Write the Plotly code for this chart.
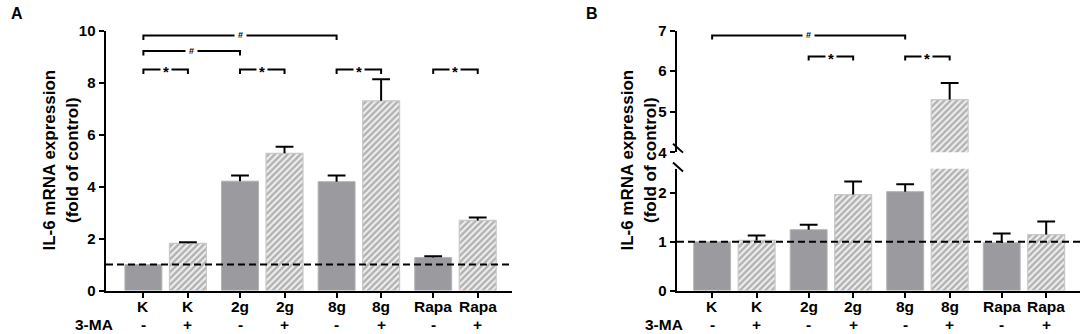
import plotly.graph_objects as go

# ---------------- data ----------------
groups = ["K", "2g", "8g", "Rapa"]
ma_signs = ["-", "+"]

a_minus = [1.00, 4.21, 4.19, 1.27]
a_minus_err = [0.00, 0.22, 0.24, 0.05]
a_plus = [1.82, 5.28, 7.30, 2.70]
a_plus_err = [0.04, 0.25, 0.83, 0.11]

b_minus = [1.00, 1.25, 2.03, 0.98]
b_minus_err = [0.00, 0.10, 0.15, 0.19]
b_plus = [1.03, 1.97, 5.30, 1.15]
b_plus_err = [0.10, 0.27, 0.41, 0.27]

# brackets: (start slot, end slot, level, label)
a_brackets = [(0, 4, 9.81, "#"), (0, 2, 9.21, "#"),
              (0, 1, 8.5, "*"), (2, 3, 8.5, "*"), (4, 5, 8.5, "*"), (6, 7, 8.5, "*")]
b_brackets = [(0, 4, 6.88, "#"), (2, 3, 6.36, "*"), (4, 5, 6.36, "*")]

a_yticks = [0, 2, 4, 6, 8, 10]
b_low_ticks = [0, 1, 2]
b_up_ticks = [4, 5, 6, 7]
b_low_range = [0, 2.5]
b_up_range = [4, 7]
control_level = 1.0

# ---------------- styling ----------------
W, H = 1084, 334
FONT = "Liberation Sans, Arial, sans-serif"
SOLID = "#9b9b9f"
HATCH_FG = "#727272"
GSTEP = 2.17
BW = 0.83
CAP = 0.2   # half cap width in x units
VS, VOFF = 0.954, 8.0   # observed vertical mapping of the capture


def pos(slot):
    return (slot // 2) * GSTEP + (slot % 2)


def px(x):
    return x / W


def py(y):
    yp = y / VS - VOFF
    return (H - yp) / H


def b(t):
    return f"<b>{t}</b>"


minus_x = [pos(2 * i) for i in range(len(groups))]
plus_x = [pos(2 * i + 1) for i in range(len(groups))]
all_x = [pos(s) for s in range(2 * len(groups))]
all_text = [g for g in groups for _ in ma_signs]
all_signs = [s for _ in groups for s in ma_signs]

fig = go.Figure()


def add_bars(xa, ya, mvals, pvals):
    fig.add_trace(go.Bar(
        x=minus_x, y=mvals, width=BW, xaxis=xa, yaxis=ya,
        marker=dict(color=SOLID, line=dict(color="#b4b4b8", width=1)),
        showlegend=False, hoverinfo="skip"))
    fig.add_trace(go.Bar(
        x=plus_x, y=pvals, width=BW, xaxis=xa, yaxis=ya,
        marker=dict(color="white", line=dict(color="#c8c8c8", width=1.2),
                    pattern=dict(shape="/", fgcolor=HATCH_FG, bgcolor="#f2f2f2",
                                 size=4.5, solidity=0.55)),
        showlegend=False, hoverinfo="skip"))


def add_err(xa, ya, xs, vals, errs, keep):
    ex, ey = [], []
    for x, v, e in zip(xs, vals, errs):
        if e <= 0 or not keep(v):
            continue
        ex += [x, x, None, x - CAP, x + CAP, None]
        ey += [v, v + e, None, v + e, v + e, None]
    if ex:
        fig.add_trace(go.Scatter(x=ex, y=ey, xaxis=xa, yaxis=ya, mode="lines",
                                 line=dict(color="black", width=2), showlegend=False,
                                 hoverinfo="skip"))


# Panel A
add_bars("x", "y", a_minus, a_plus)
add_err("x", "y", minus_x, a_minus, a_minus_err, lambda v: True)
add_err("x", "y", plus_x, a_plus, a_plus_err, lambda v: True)

# Panel B lower and upper (broken axis)
lowk = lambda v: v < b_up_range[0]
upk = lambda v: v >= b_up_range[0]
add_bars("x2", "y2", b_minus, b_plus)
add_bars("x2", "y3", b_minus, b_plus)
add_err("x2", "y2", minus_x, b_minus, b_minus_err, lowk)
add_err("x2", "y2", plus_x, b_plus, b_plus_err, lowk)
add_err("x2", "y3", minus_x, b_minus, b_minus_err, upk)
add_err("x2", "y3", plus_x, b_plus, b_plus_err, upk)

tickfont = dict(family=FONT, size=15, color="black")

common_x = dict(tickvals=all_x, showticklabels=False, showline=True,
                linecolor="black", linewidth=2.5, ticks="outside", ticklen=5, tickwidth=2,
                tickcolor="black", showgrid=False, zeroline=False, fixedrange=True)
common_y = dict(tickfont=tickfont, showline=True, linecolor="black", linewidth=2.5,
                ticks="outside", ticklen=5, tickwidth=2, tickcolor="black",
                showgrid=False, zeroline=False, fixedrange=True)

y0p = py(290.7)
fig.update_layout(
    width=W, height=H, margin=dict(l=0, r=0, t=0, b=0), autosize=False,
    paper_bgcolor="white", plot_bgcolor="white", barmode="overlay",
    showlegend=False, font=dict(family=FONT, color="black"),
    xaxis=dict(domain=[px(106), px(512)], range=[-0.84, 8.28], anchor="y", **common_x),
    yaxis=dict(domain=[y0p, py(29.3)], range=[0, 10], tickvals=a_yticks,
               ticktext=[b(t) for t in a_yticks], anchor="x", **common_y),
    xaxis2=dict(domain=[px(677), px(1080)], range=[-0.79, 8.27], anchor="y2", **common_x),
    yaxis2=dict(domain=[y0p, py(168.2)], range=b_low_range, tickvals=b_low_ticks,
                ticktext=[b(t) for t in b_low_ticks], anchor="x2", **common_y),
    yaxis3=dict(domain=[py(151.7), py(29.3)], range=b_up_range, tickvals=b_up_ticks,
                ticktext=[b(t) for t in b_up_ticks], anchor="x2", **common_y),
)

shapes = []
annots = []

# dashed control lines
for xr, yr in (("x domain", "y"), ("x2 domain", "y2")):
    shapes.append(dict(type="line", xref=xr, yref=yr, x0=0, x1=1, y0=control_level, y1=control_level,
                       line=dict(color="black", width=2, dash="7px,4px")))


def add_brackets(brs, xr, yr, drop):
    for s0, s1, lvl, lab in brs:
        x0, x1 = pos(s0), pos(s1)
        shapes.append(dict(type="path", xref=xr, yref=yr,
                           path=f"M {x0},{lvl - drop} L {x0},{lvl} L {x1},{lvl} L {x1},{lvl - drop}",
                           line=dict(color="black", width=2)))
        annots.append(dict(x=(x0 + x1) / 2, y=lvl, xref=xr, yref=yr, text=b(lab), showarrow=False,
                           xanchor="center", yanchor="middle",
                           bgcolor="white", borderpad=2 if lab == "*" else 3,
                           yshift=-2 if lab == "*" else 0,
                           font=dict(family=FONT, size=15 if lab == "*" else 9, color="black")))


add_brackets(a_brackets, "x", "y", 0.17)
add_brackets(b_brackets, "x2", "y3", 0.1)

# x labels: group names and 3-MA signs
lab_font = dict(family=FONT, size=15.5, color="black")
for xr, lx in (("x", 115), ("x2", 685)):
    for xv, gt, sg in zip(all_x, all_text, all_signs):
        annots.append(dict(x=xv, y=py(306.5), xref=xr, yref="paper", text=b(gt), showarrow=False,
                           xanchor="center", yanchor="middle", font=lab_font))
        annots.append(dict(x=xv, y=py(325), xref=xr, yref="paper", text=b(sg), showarrow=False,
                           xanchor="center", yanchor="middle", font=lab_font))
    annots.append(dict(x=px(lx), y=py(325), xref="paper", yref="paper", text=b("3-MA"), showarrow=False,
                       xanchor="right", yanchor="middle", font=lab_font))

# axis titles
for cx in (61, 639):
    annots.append(dict(x=px(cx), y=py(160), xref="paper", yref="paper",
                       text=b("IL-6 mRNA expression<br>(fold of control)"), textangle=-90,
                       xanchor="center", yanchor="middle",
                       showarrow=False, font=dict(family=FONT, size=17, color="black")))

# panel letters
annots.append(dict(x=px(9), y=py(12), xref="paper", yref="paper", text=b("A"), showarrow=False,
                   xanchor="left", yanchor="middle", font=dict(family=FONT, size=16, color="black")))
annots.append(dict(x=px(584), y=py(12), xref="paper", yref="paper", text=b("B"), showarrow=False,
                   xanchor="left", yanchor="middle", font=dict(family=FONT, size=16, color="black")))

# axis break marks on panel B
for yy in (147, 166):
    shapes.append(dict(type="line", xref="paper", yref="paper", x0=px(673), x1=px(683),
                       y0=py(yy - 4), y1=py(yy + 5), line=dict(color="black", width=2)))

fig.update_layout(shapes=shapes, annotations=annots)

css = ("var s=document.createElement('style');"
       "s.innerHTML='html,body{margin:0 !important;padding:0 !important;overflow:hidden !important;"
       "width:1084px;height:334px;}';document.head.appendChild(s);")
fig.write_html("out.html", config={"displayModeBar": False, "staticPlot": True},
               post_script=css)
